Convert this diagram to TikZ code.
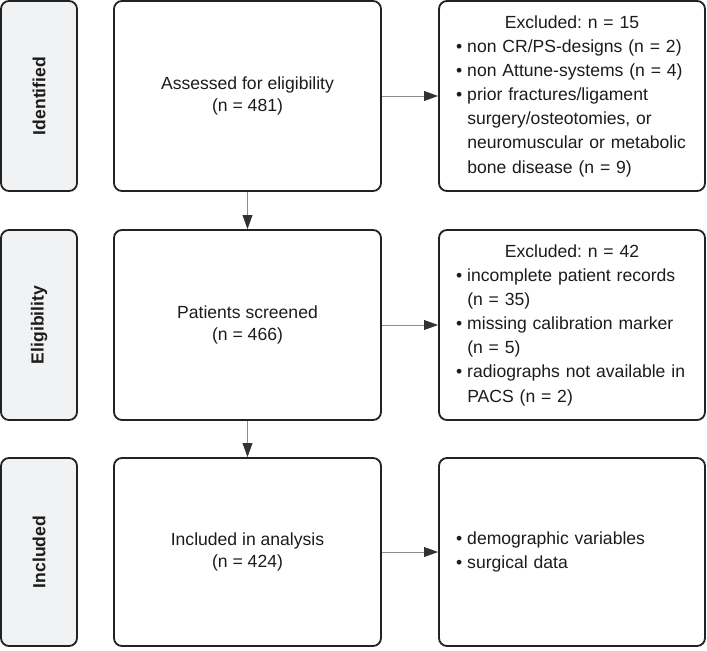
\documentclass[tikz,border=0pt]{standalone}
\usepackage{fontspec}
\setmainfont{Liberation Sans}
\usepackage{tikz}
\usetikzlibrary{arrows.meta,positioning}
\frenchspacing
\definecolor{borderdark}{RGB}{34,34,34}
\definecolor{phasegrey}{RGB}{241,242,244}
\definecolor{linegrey}{RGB}{140,140,140}
\definecolor{tipdark}{RGB}{50,50,50}
\definecolor{textdark}{RGB}{28,28,28}
\newcommand{\bul}{\makebox[8pt][l]{\textbullet}}
\newcommand{\cont}{\hspace*{8pt}}
\tikzset{
  base/.style={font=\fontsize{12.5}{15.5}\selectfont, align=center, inner sep=0pt, text=textdark},
  box/.style={base, rectangle, rounded corners=0.2cm, draw=borderdark, fill=white, line width=1.3pt},
  phase/.style={box, fill=phasegrey, rotate=90, font=\fontsize{12.5}{15.5}\selectfont\bfseries, minimum width=#1, minimum height=1.9cm},
  stage/.style={box, minimum width=6.675cm, minimum height=#1},
  excl/.style={box, font=\fontsize{12.5}{17.2}\selectfont, align=left, text width=5.8cm, inner xsep=0.425cm, minimum height=#1},
  arr/.style={-{Triangle[length=10pt,width=7pt,color=tipdark]}, line width=0.6pt, draw=linegrey},
}
\begin{document}
\begin{tikzpicture}
  \useasboundingbox (0,0) rectangle (17.675,-16.25);
  % phases and flow boxes
  \foreach \y/\r/\h/\ph/\st in {-2.4/1/4.75cm/Identified/{Assessed for eligibility\\(n = 481)},-8.125/2/4.75cm/Eligibility/{Patients screened\\(n = 466)},-13.8/3/4.7cm/Included/{Included in analysis\\(n = 424)}}{
    \node[phase=\h] (p\r) at (0.975,\y) {\ph};
    \node[stage=\h] (s\r) at (6.1875,\y) {\st};
  }
  % exclusion / outcome boxes
  \node[excl=4.75cm] (e1) at (14.3,-2.4) {\makebox[\linewidth]{Excluded: n = 15}\\
    \bul non CR/PS-designs (n = 2)\\
    \bul non Attune-systems (n = 4)\\
    \bul prior fractures/ligament\\
    \cont surgery/osteotomies, or\\
    \cont neuromuscular or metabolic\\
    \cont bone disease (n = 9)};
  \node[excl=4.75cm] (e2) at (14.3,-8.125) {\makebox[\linewidth]{Excluded: n = 42}\\
    \bul incomplete patient records\\
    \cont (n = 35)\\
    \bul missing calibration marker\\
    \cont (n = 5)\\
    \bul radiographs not available in\\
    \cont PACS (n = 2)};
  \node[excl=4.7cm] (e3) at (14.3,-13.8) {\bul demographic variables\\
    \bul surgical data};
  % connectors
  \foreach \r in {1,2,3}{\draw[arr] (s\r) -- (e\r);}
  \foreach \a/\b in {s1/s2,s2/s3}{\draw[arr] (\a) -- (\b);}
\end{tikzpicture}
\end{document}
